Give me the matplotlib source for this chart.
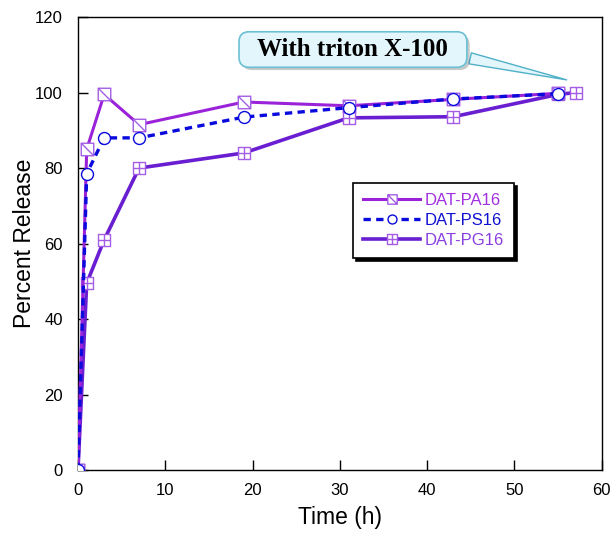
import matplotlib
matplotlib.use("Agg")
import matplotlib.pyplot as plt
from matplotlib.path import Path
import matplotlib.patheffects as pe

plt.rcParams['font.family'] = ['Liberation Sans', 'DejaVu Sans']

# Data
time_pa = [0, 1, 3, 7, 19, 31, 43, 55]
pa16 = [0, 85, 99.5, 91.5, 97.5, 96.5, 98.2, 99.8]
time_ps = [0, 1, 3, 7, 19, 31, 43, 55]
ps16 = [0, 78.5, 88, 88, 93.5, 96, 98.3, 99.7]
time_pg = [0, 1, 3, 7, 19, 31, 43, 55, 57]
pg16 = [0, 49.5, 61, 80, 84, 93.3, 93.6, 99.5, 100]
labels = ["DAT-PA16", "DAT-PS16", "DAT-PG16"]
xticks = [0, 10, 20, 30, 40, 50, 60]
yticks = [0, 20, 40, 60, 80, 100, 120]

# custom markers
sq = [(-1, -1), (1, -1), (1, 1), (-1, 1), (-1, -1)]
sq_codes = [Path.MOVETO, Path.LINETO, Path.LINETO, Path.LINETO, Path.CLOSEPOLY]
diag_marker = Path(sq + [(-1, 1), (1, -1)],
                   sq_codes + [Path.MOVETO, Path.LINETO])
plus_marker = Path(sq + [(0, -1), (0, 1), (-1, 0), (1, 0)],
                   sq_codes + [Path.MOVETO, Path.LINETO, Path.MOVETO, Path.LINETO])

c_pa = '#9a22d8'
c_ps = '#0a0adc'
c_pg = '#6a1ed2'
m_edge = '#a45ee6'

fig = plt.figure(figsize=(6.14, 5.33), dpi=100)
ax = fig.add_axes([0.127, 0.118, 0.853, 0.850])

ax.plot(time_pg, pg16, color=c_pg, lw=2.6, marker=plus_marker, ms=9,
        mfc='white', mec=m_edge, mew=1.0, label=labels[2], zorder=3)
ax.plot(time_pa, pa16, color=c_pa, lw=2.2, marker=diag_marker, ms=9,
        mfc='white', mec=m_edge, mew=1.0, label=labels[0], zorder=4)
ax.plot(time_ps, ps16, color=c_ps, lw=2.4, ls=(0, (2.2, 1.6)), marker='o', ms=8.6,
        mfc='white', mec=c_ps, mew=1.0, label=labels[1], zorder=5)

ax.set_xlim(0, 60)
ax.set_ylim(0, 120)
ax.set_xticks(xticks)
ax.set_yticks(yticks)
ax.tick_params(direction='in', length=7, width=1, labelsize=12, top=False, right=False)
ax.tick_params(axis='y', pad=11)
ax.tick_params(axis='x', pad=9)
for s in ax.spines.values():
    s.set_linewidth(1.0)
ax.set_xlabel("Time (h)", fontsize=16.5, labelpad=6)
ax.set_ylabel("Percent Release", fontsize=16.5, labelpad=-1)

handles, labs = ax.get_legend_handles_labels()
order = [1, 2, 0]
leg = ax.legend([handles[i] for i in order], [labs[i] for i in order],
                loc='upper left', bbox_to_anchor=(0.51, 0.652),
                fontsize=12, handlelength=3.4, handletextpad=0.3,
                labelspacing=0.3, borderpad=0.6, frameon=True, markerscale=0.75,
                fancybox=False, shadow={'color': 'black', 'alpha': 1.0},
                edgecolor='black', framealpha=1)
leg.get_frame().set_linewidth(1.2)
for t, c in zip(leg.get_texts(), ['#a030e0', '#1010d0', '#8a40e0']):
    t.set_color(c)

ax.annotate("  With triton X-100  ", xy=(56.3, 103.2), xycoords='data',
            xytext=(31.5, 111.4), textcoords='data',
            ha='center', va='center', fontsize=18, fontweight='bold',
            family=['Liberation Serif'],
            bbox=dict(boxstyle='round,pad=0.25,rounding_size=0.4',
                      fc='#e2f6fc', ec='#6cc0d4', lw=1.2,
                      path_effects=[pe.withSimplePatchShadow(offset=(2, -2), alpha=0.3)]),
            arrowprops=dict(arrowstyle='wedge,tail_width=0.45,shrink_factor=0.5',
                            fc='#e2f6fc', ec='#50b0c8', lw=1.0,
                            relpos=(0.98, 0.25)),
            zorder=6)

fig.savefig("out.png", dpi=100)
